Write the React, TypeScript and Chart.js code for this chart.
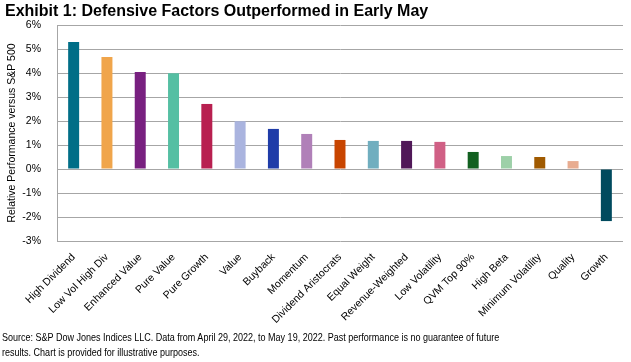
import React, { useEffect, useRef } from "react";
import { Chart, registerables } from "chart.js";

Chart.register(...registerables);

const categories = [
  "High Dividend",
  "Low Vol High Div",
  "Enhanced Value",
  "Pure Value",
  "Pure Growth",
  "Value",
  "Buyback",
  "Momentum",
  "Dividend Aristocrats",
  "Equal Weight",
  "Revenue-Weighted",
  "Low Volatility",
  "QVM Top 90%",
  "High Beta",
  "Minimum Volatility",
  "Quality",
  "Growth",
];

const relativePerformance = [
  5.29, 4.67, 4.04, 3.99, 2.71, 1.99, 1.67, 1.46, 1.21, 1.17, 1.17, 1.13, 0.71, 0.54, 0.5, 0.33, -2.17,
];

const barColors = [
  "#006e87",
  "#f0a54b",
  "#782080",
  "#55bfa3",
  "#b82050",
  "#aab4df",
  "#1f3ca8",
  "#b080b8",
  "#c84500",
  "#70aebf",
  "#501858",
  "#d06085",
  "#126020",
  "#9dd0a8",
  "#a05a00",
  "#e8ac90",
  "#004a5e",
];

const titleText = "Exhibit 1: Defensive Factors Outperformed in Early May";
const yAxisTitle = "Relative Performance versus S&P 500";
const footerLines = [
  "Source: S&P Dow Jones Indices LLC. Data from April 29, 2022, to May 19, 2022. Past performance is no guarantee of future",
  "results. Chart is provided for illustrative purposes.",
];

const FONT = "'Liberation Sans', Arial, sans-serif";

export default function App() {
  const ref = useRef<HTMLCanvasElement | null>(null);

  useEffect(() => {
    document.body.style.margin = "0";
    const ctx = ref.current!;
    const chart = new Chart(ctx, {
      type: "bar",
      data: {
        labels: categories,
        datasets: [
          {
            data: relativePerformance,
            backgroundColor: barColors,
            borderWidth: 0,
            barPercentage: 0.33,
            categoryPercentage: 1,
          },
        ],
      },
      options: {
        animation: false,
        responsive: false,
        maintainAspectRatio: false,
        layout: { padding: { top: 25, left: 0, right: 8, bottom: 0 } },
        plugins: {
          legend: { display: false },
          tooltip: { enabled: false },
        },
        scales: {
          x: {
            grid: { display: false, drawTicks: false },
            border: { display: false },
            ticks: {
              color: "#000",
              font: { family: FONT, size: 10.5 },
              maxRotation: 45,
              minRotation: 45,
              autoSkip: false,
              padding: 10,
            },
            afterFit: (s: any) => {
              s.height = 121;
            },
          },
          y: {
            min: -3,
            max: 6,
            ticks: {
              stepSize: 1,
              color: "#000",
              font: { family: FONT, size: 10.5 },
              padding: 16,
              callback: (v: any) => `${v}%`,
            },
            grid: { color: "#a6a6a6", lineWidth: 1, drawTicks: false },
            border: { display: true, color: "#a6a6a6", width: 1 },
            title: {
              display: true,
              text: yAxisTitle,
              color: "#000",
              font: { family: FONT, size: 10.5 },
              padding: { top: 6, bottom: 0 },
            },
            afterFit: (s: any) => {
              s.width = 57;
            },
          },
        },
      },
    });
    return () => chart.destroy();
  }, []);

  return (
    <div style={{ position: "relative", width: 631, height: 362, background: "#fff", overflow: "hidden" }}>
      <canvas ref={ref} width={631} height={362} style={{ position: "absolute", left: 0, top: 0 }} />
      <div
        style={{
          position: "absolute",
          left: 5,
          top: 2,
          fontFamily: FONT,
          fontWeight: "bold",
          fontSize: 16,
          color: "#000",
          whiteSpace: "nowrap",
        }}
      >
        {titleText}
      </div>
      <div
        style={{
          position: "absolute",
          left: 2,
          top: 330,
          fontFamily: FONT,
          fontSize: 11,
          lineHeight: "15px",
          color: "#000",
          whiteSpace: "nowrap",
          transform: "scaleX(0.82)",
          transformOrigin: "left top",
        }}
      >
        {footerLines.map((l, i) => (
          <div key={i}>{l}</div>
        ))}
      </div>
    </div>
  );
}
